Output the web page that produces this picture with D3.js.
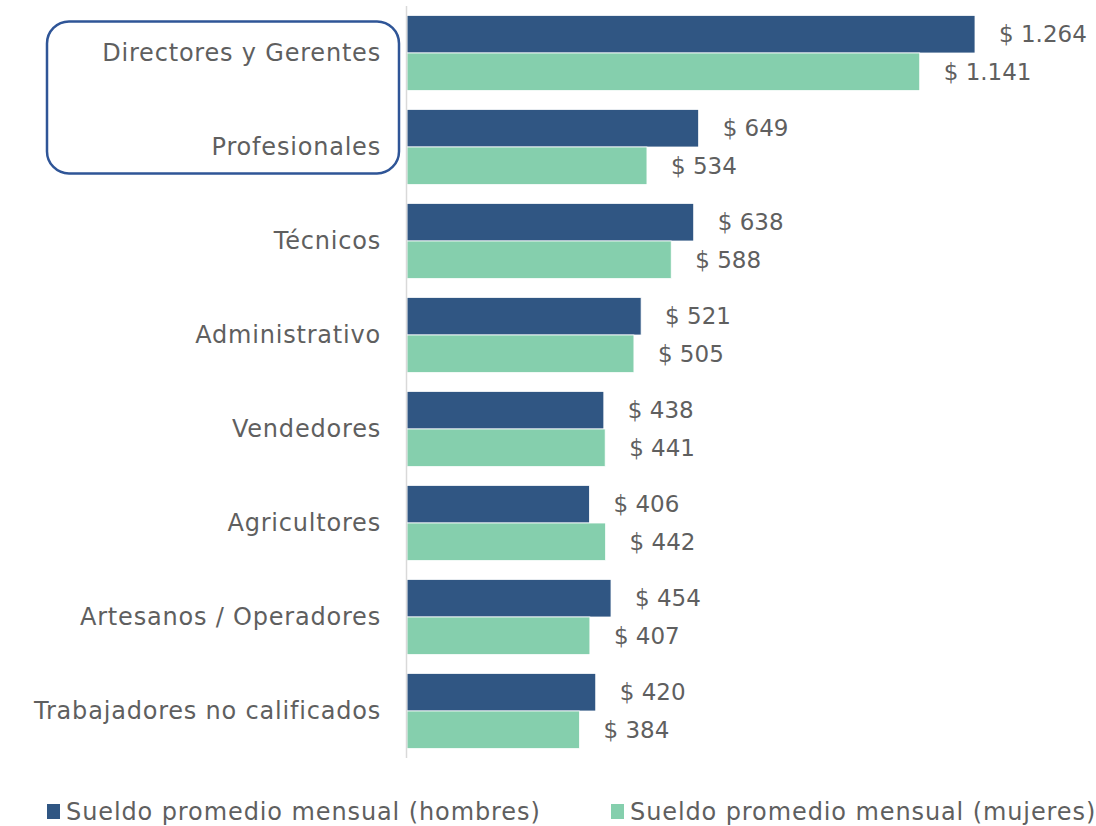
<!DOCTYPE html>
<html>
<head>
<meta charset="utf-8">
<script src="https://cdn.jsdelivr.net/npm/d3@7"></script>
<style>
  html, body { margin: 0; padding: 0; background: #fff; }
  svg { display: block; }
</style>
</head>
<body>
<div id="chart"></div>
<script>
const categories = [
  "Directores y Gerentes",
  "Profesionales",
  "Técnicos",
  "Administrativo",
  "Vendedores",
  "Agricultores",
  "Artesanos / Operadores",
  "Trabajadores no calificados"
];
const hombres = [1264, 649, 638, 521, 438, 406, 454, 420];
const mujeres = [1141, 534, 588, 505, 441, 442, 407, 384];
const seriesNames = ["Sueldo promedio mensual (hombres)", "Sueldo promedio mensual (mujeres)"];
const seriesColors = ["#305683", "#85CFAD"];

const width = 1096, height = 826;
const font = "'DejaVu Sans', 'Noto Sans', sans-serif";
const textColor = "#5f5f5f";

const svg = d3.select("#chart")
  .append("svg")
  .attr("width", width)
  .attr("height", height);

// scales
const x = d3.scaleLinear()
  .domain([0, 1264])
  .range([407, 975]);

const y = d3.scaleBand()
  .domain(categories)
  .range([6, 758])
  .paddingInner(0.2)
  .paddingOuter(0.1);

const ySub = d3.scaleBand()
  .domain([0, 1])
  .range([0, y.bandwidth()]);

const fmt = v => "$ " + d3.format(",")(v).replace(/,/g, ".");

// bars
const rows = categories.map((c, i) => ({ cat: c, vals: [hombres[i], mujeres[i]] }));

const groups = svg.selectAll("g.row")
  .data(rows)
  .join("g")
  .attr("class", "row")
  .attr("transform", d => `translate(0,${y(d.cat)})`);

groups.selectAll("rect")
  .data(d => d.vals.map((v, k) => ({ v, k })))
  .join("rect")
  .attr("x", x(0))
  .attr("y", d => ySub(d.k))
  .attr("width", d => x(d.v) - x(0))
  .attr("height", ySub.bandwidth())
  .attr("fill", d => seriesColors[d.k])
  .attr("stroke", "#fff")
  .attr("stroke-width", 0.8);

groups.selectAll("text.val")
  .data(d => d.vals.map((v, k) => ({ v, k })))
  .join("text")
  .attr("class", "val")
  .attr("x", d => x(d.v) + 24)
  .attr("y", d => ySub(d.k) + ySub.bandwidth() / 2)
  .attr("dy", "0.35em")
  .attr("font-family", font)
  .attr("font-size", 23)
  .attr("fill", textColor)
  .text(d => fmt(d.v));

// axis line
svg.append("line")
  .attr("x1", x(0) - 0.5).attr("x2", x(0) - 0.5)
  .attr("y1", 6).attr("y2", 758)
  .attr("stroke", "#d9d9d9")
  .attr("stroke-width", 1.5);

// category labels
svg.selectAll("text.cat")
  .data(categories)
  .join("text")
  .attr("class", "cat")
  .attr("x", 381)
  .attr("y", d => y(d) + y.bandwidth() / 2)
  .attr("dy", "0.35em")
  .attr("text-anchor", "end")
  .attr("font-family", font)
  .attr("font-size", 24)
  .attr("letter-spacing", 0.8)
  .attr("fill", textColor)
  .text(d => d);

// highlight box round the first two categories
svg.append("rect")
  .attr("x", 47)
  .attr("y", y(categories[0]) + 6)
  .attr("width", 352)
  .attr("height", 152)
  .attr("rx", 22)
  .attr("fill", "none")
  .attr("stroke", "#2F5597")
  .attr("stroke-width", 2.5);

// legend
const legend = svg.append("g");
const legendX = [47, 611];
seriesNames.forEach((name, i) => {
  legend.append("rect")
    .attr("x", legendX[i])
    .attr("y", 804)
    .attr("width", 13)
    .attr("height", 15)
    .attr("fill", seriesColors[i]);
  legend.append("text")
    .attr("x", legendX[i] + 19)
    .attr("y", 812)
    .attr("dy", "0.35em")
    .attr("font-family", font)
    .attr("font-size", 24)
    .attr("letter-spacing", 0.9)
    .attr("fill", textColor)
    .text(name);
});
</script>
</body>
</html>
